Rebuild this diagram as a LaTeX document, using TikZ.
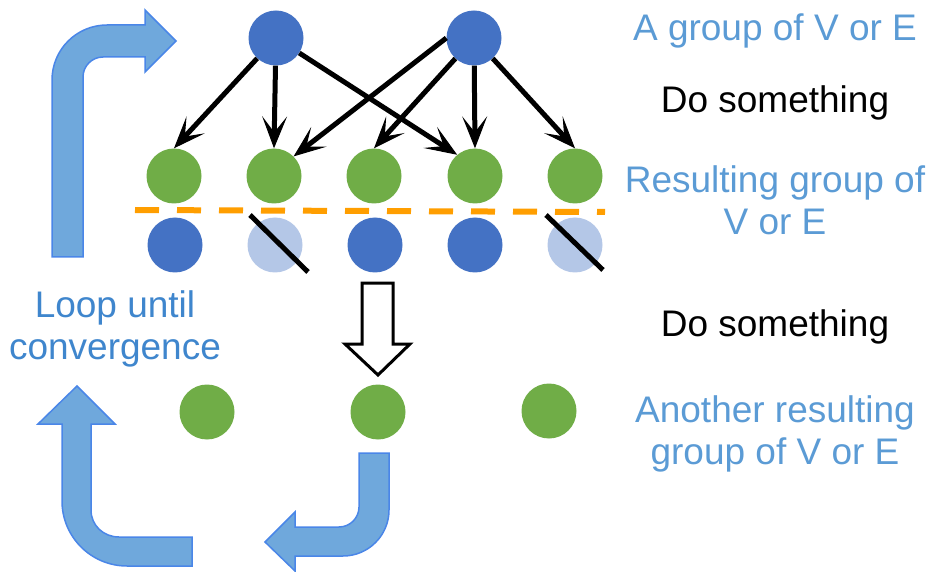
\documentclass[tikz,border=0pt]{standalone}
\usepackage{fontspec}
\setmainfont{Liberation Sans}
\usetikzlibrary{arrows.meta}
\definecolor{nodeblue}{HTML}{4472C4}
\definecolor{nodegreen}{HTML}{70AD47}
\definecolor{nodefaded}{HTML}{B4C7E7}
\definecolor{cutline}{HTML}{FF9E00}
\definecolor{loopfill}{HTML}{6FA8DC}
\definecolor{loopedge}{HTML}{4A86E8}
\definecolor{labelblue}{HTML}{5B9BD5}
\definecolor{loopblue}{HTML}{3F86CD}
\tikzset{
  dot/.style={circle, minimum size=55pt, inner sep=0pt, draw=none},
  bluedot/.style={dot, fill=nodeblue},
  greendot/.style={dot, fill=nodegreen},
  fadeddot/.style={dot, fill=nodefaded},
  maparrow/.style={line width=5pt, -{Stealth[length=32pt, width=25pt, inset=16pt, line width=1pt]}},
  slash/.style={line width=5pt, black},
  bentarrow/.style={fill=loopfill, draw=loopedge, line width=1.5pt, line join=miter},
  label/.style={anchor=base, font=\fontsize{37}{42}\selectfont, inner sep=0pt},
}
\begin{document}
\begin{tikzpicture}[x=1pt, y=-1pt]
\useasboundingbox (0,0) rectangle (932,572);

% source group
\node[bluedot] (t1) at (276,38) {};
\node[bluedot] (t2) at (474,38) {};

% resulting group
\node[greendot] (g1) at (174,176) {};
\node[greendot] (g2) at (274,176) {};
\node[greendot] (g3) at (374,176) {};
\node[greendot] (g4) at (475,176) {};
\node[greendot] (g5) at (575,176) {};

% kept / discarded members
\node[bluedot]  (b1) at (175,245) {};
\node[fadeddot] (b2) at (275,245) {};
\node[bluedot]  (b3) at (375,245) {};
\node[bluedot]  (b4) at (475,245) {};
\node[fadeddot] (b5) at (575,245) {};

% next resulting group
\node[greendot] (n1) at (207,412) {};
\node[greendot] (n2) at (378,412) {};
\node[greendot] (n3) at (549,411) {};

% mapping edges
\draw[maparrow] (t1) -- (g1.north);
\draw[maparrow] (t1) -- (g2.north);
\draw[maparrow] (t1) -- (g4.130);
\draw[maparrow] (t2.west) -- (g2.45);
\draw[maparrow] (t2) -- (g3.north);
\draw[maparrow] (t2) -- (g4.north);
\draw[maparrow] (t2) -- (g5.north);

% cut line
\coordinate (cutL) at (135,210);
\coordinate (cutR) at (605,212);
\draw[cutline, line width=6pt, dash pattern=on 24pt off 18pt] (cutL) -- (cutR);

% strike-through of discarded members
\draw[slash] ([shift={(-25,-30)}]b2.center) -- ([shift={(33,27)}]b2.center);
\draw[slash] ([shift={(-29,-30)}]b5.center) -- ([shift={(28,25)}]b5.center);

% hollow step arrow
\draw[line width=3pt, fill=white, line join=miter]
  (362,283) -- (393,283) -- (393,344) -- (410,344) -- (378,375)
  -- (345,344) -- (362,344) -- cycle;

% loop arrows
\draw[bentarrow]
  (52,257) -- (52,80) .. controls (52,49.6) and (76.6,25) .. (107,25)
  -- (145,25) -- (145,10) -- (176,41) -- (145,72) -- (145,57) -- (103,57)
  .. controls (92,57) and (83,66) .. (83,77) -- (83,257) -- cycle;
\draw[bentarrow]
  (359,453) -- (389,453) -- (389,510) .. controls (389,535.4) and (368.4,556) .. (343,556)
  -- (295,556) -- (295,571) -- (265,542) -- (295,512) -- (295,527) -- (339,527)
  .. controls (350,527) and (359,518) .. (359,507) -- cycle;
\draw[bentarrow]
  (77,386) -- (115,424) -- (91,424) -- (91,510) .. controls (91,525.5) and (103.5,537) .. (119,537)
  -- (192,537) -- (192,566) -- (127,566) .. controls (91.1,566) and (62,536.9) .. (62,501)
  -- (62,424) -- (38,424) -- cycle;

% labels
\node[label, text=labelblue] (l1) at (775,41) {A group of V or E};
\node[label] (l2) at (775,113) {Do something};
\node[label, text=labelblue] (l3a) at (775,193) {Resulting group of};
\node[label, text=labelblue] (l3b) at (775,235) {V or E};
\node[label] (l4) at (775,336) {Do something};
\node[label, text=labelblue] (l5a) at (775,422) {Another resulting};
\node[label, text=labelblue] (l5b) at (775,464) {group of V or E};
\node[label, text=loopblue] (l6a) at (115,317) {Loop until};
\node[label, text=loopblue] (l6b) at (115,359) {convergence};
\end{tikzpicture}
\end{document}
